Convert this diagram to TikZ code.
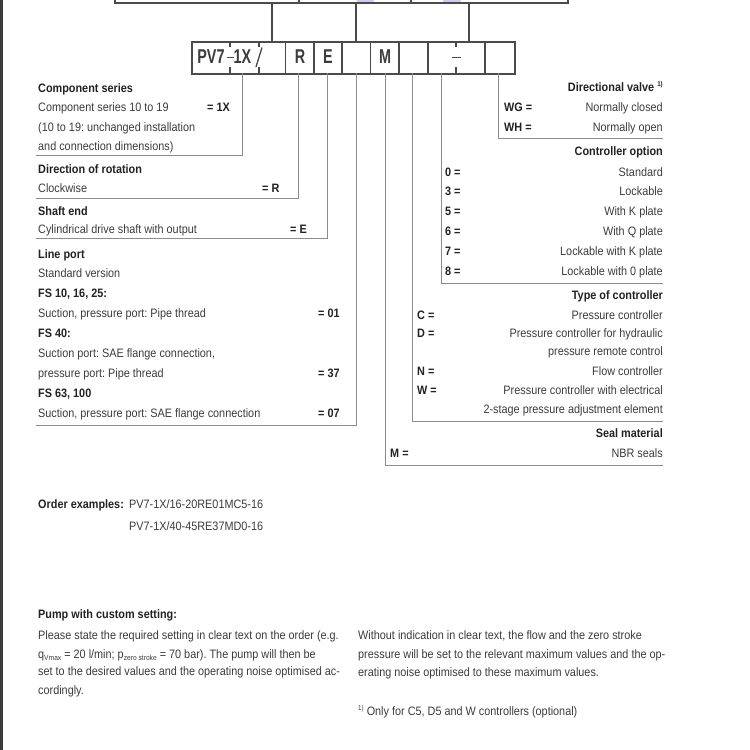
\documentclass[tikz,border=0pt]{standalone}
\usepackage{fontspec}
\setmainfont[FakeStretch=0.89]{Liberation Sans}
\newfontfamily\boxfont[FakeStretch=0.72]{Liberation Sans}
\definecolor{barc}{HTML}{3A3A3A}
\definecolor{txtc}{HTML}{3C3C3C}
\definecolor{boldc}{HTML}{222222}
\definecolor{framec}{HTML}{4A4A4A}
\definecolor{linec}{HTML}{8C8C8C}
\definecolor{hilite}{HTML}{CCCCF2}
\newcommand{\fs}{\fontsize{12.2}{14}\selectfont}
\newcommand{\supone}{\raisebox{0.65ex}{\fontsize{7}{7}\selectfont 1)}}
\newcommand{\subsc}[1]{\raisebox{-0.45ex}{\fontsize{7.5}{7.5}\selectfont #1}}
\tikzset{
  lt/.style={anchor=base west, inner sep=0pt, font=\fs, text=txtc},
  lb/.style={anchor=base west, inner sep=0pt, font=\fs\bfseries, text=boldc},
  rt/.style={anchor=base east, inner sep=0pt, font=\fs, text=txtc},
  rb/.style={anchor=base east, inner sep=0pt, font=\fs\bfseries, text=boldc},
  code/.style={anchor=base west, inner sep=0pt, font=\fs\bfseries, text=boldc},
  boxtxt/.style={anchor=center, inner sep=0pt, font=\boxfont\bfseries\fontsize{20}{20}\selectfont, text=txtc},
  frame/.style={draw=framec, line width=1.4pt},
  thin frame/.style={draw=framec, line width=1.1pt},
  leader/.style={draw=linec, line width=0.9pt},
}
\frenchspacing
\begin{document}
\frenchspacing
\begin{tikzpicture}[x=1pt,y=-1pt]
\useasboundingbox (0,0) rectangle (750,750);
\fill[white] (0,0) rectangle (750,750);
\fill[barc] (0,0) rectangle (3,750);

% --- table edge at top
\fill[hilite] (357,0) rectangle (374,4);
\fill[hilite] (443,0) rectangle (461,4);
\coordinate (tl) at (115,3);
\coordinate (tr) at (568,3);
\draw[thin frame] (115,0) -- (tl) -- (tr) -- (568,0);
\draw[thin frame] (299,0) -- (299,3);
\draw[thin frame] (411,0) -- (411,3);

% --- code box
\node[draw=framec, line width=1.5pt, minimum width=323pt, minimum height=32pt, inner sep=0pt, anchor=north west] (cb) at (191,41) {};
\foreach \x in {285.7,314,342,370.7,399,428,485}{\draw[frame] (\x,41) -- (\x,73);}
\foreach \x in {230,259,456}{\draw[frame] (\x,41) -- (\x,47); \draw[frame] (\x,67) -- (\x,73);}
\draw[frame] (226.5,57.5) -- (233.5,57.5);
\draw[frame] (451.5,57.5) -- (460.5,57.5);
\draw[draw=framec, line width=1.3pt] (262,47.5) -- (256,67);
\node[boxtxt] (pv) at (211,57) {PV7};
\node[boxtxt] (ox) at (242.5,57) {1X};
\node[boxtxt] (r) at (300,57) {R};
\node[boxtxt] (e) at (328,57) {E};
\node[boxtxt] (m) at (385,57) {M};

% connectors from table to box
\coordinate (t1) at (272,3); \coordinate (b1) at (272,41);
\coordinate (t2) at (356,3); \coordinate (b2) at (356,41);
\coordinate (t3) at (469,3); \coordinate (b3) at (469,41);
\draw[thin frame] (t1) -- (b1);
\draw[thin frame] (t2) -- (b2);
\draw[thin frame] (t3) -- (b3);

% --- left legend
\node[lb] (h1) at (38,92) {Component series};
\node[lt] (l11) at (38,111) {Component series 10 to 19};
\node[code] (c1) at (207,111) {= 1X};
\node[lt] (l12) at (38,131) {(10 to 19: unchanged installation};
\node[lt] (l13) at (38,150) {and connection dimensions)};
\node[lb] (h2) at (38,173) {Direction of rotation};
\node[lt] (l21) at (38,192) {Clockwise};
\node[code] (c2) at (262,192) {= R};
\node[lb] (h3) at (38,215) {Shaft end};
\node[lt] (l31) at (38,233) {Cylindrical drive shaft with output};
\node[code] (c3) at (290,233) {= E};
\node[lb] (h4) at (38,258) {Line port};
\node[lt] (l41) at (38,277) {Standard version};
\node[lb] (l42) at (38,297) {FS 10, 16, 25:};
\node[lt] (l43) at (38,317) {Suction, pressure port: Pipe thread};
\node[code] (c41) at (318,317) {= 01};
\node[lb] (l44) at (38,337) {FS 40:};
\node[lt] (l45) at (38,357) {Suction port: SAE flange connection,};
\node[lt] (l46) at (38,377) {pressure port: Pipe thread};
\node[code] (c42) at (318,377) {= 37};
\node[lb] (l47) at (38,397) {FS 63, 100};
\node[lt] (l48) at (38,417) {Suction, pressure port: SAE flange connection};
\node[code] (c43) at (318,417) {= 07};

% left leaders
\coordinate (a1) at (242,73); \coordinate (a1b) at (242,155); \coordinate (a1c) at (36,155);
\coordinate (a2) at (298,73); \coordinate (a2b) at (298,198); \coordinate (a2c) at (36,198);
\coordinate (a3) at (327,73); \coordinate (a3b) at (327,238); \coordinate (a3c) at (36,238);
\coordinate (a4) at (356,73); \coordinate (a4b) at (356,425); \coordinate (a4c) at (36,425);
\draw[leader] (a1) -- (a1b) -- (a1c);
\draw[leader] (a2) -- (a2b) -- (a2c);
\draw[leader] (a3) -- (a3b) -- (a3c);
\draw[leader] (a4) -- (a4b) -- (a4c);

% right leaders
\coordinate (d1) at (498,73); \coordinate (d1b) at (498,138); \coordinate (d1c) at (663,138);
\coordinate (d2) at (441,73); \coordinate (d2b) at (441,283); \coordinate (d2c) at (663,283);
\coordinate (d3) at (412,73); \coordinate (d3b) at (412,421); \coordinate (d3c) at (663,421);
\coordinate (d4) at (385,73); \coordinate (d4b) at (385,465); \coordinate (d4c) at (663,465);
\draw[leader] (d1) -- (d1b) -- (d1c);
\draw[leader] (d2) -- (d2b) -- (d2c);
\draw[leader] (d3) -- (d3b) -- (d3c);
\draw[leader] (d4) -- (d4b) -- (d4c);

% --- right legend
\node[rb] (rh1) at (663,91) {Directional valve \supone};
\node[code] (k11) at (504,111) {WG =};
\node[rt] (r11) at (663,111) {Normally closed};
\node[code] (k12) at (504,131) {WH =};
\node[rt] (r12) at (663,131) {Normally open};
\node[rb] (rh2) at (663,155) {Controller option};
\node[code] (k21) at (445,176) {0 =};
\node[rt] (r21) at (663,176) {Standard};
\node[code] (k22) at (445,195) {3 =};
\node[rt] (r22) at (663,195) {Lockable};
\node[code] (k23) at (445,215) {5 =};
\node[rt] (r23) at (663,215) {With K plate};
\node[code] (k24) at (445,235) {6 =};
\node[rt] (r24) at (663,235) {With Q plate};
\node[code] (k25) at (445,255) {7 =};
\node[rt] (r25) at (663,255) {Lockable with K plate};
\node[code] (k26) at (445,275) {8 =};
\node[rt] (r26) at (663,275) {Lockable with 0 plate};
\node[rb] (rh3) at (663,299) {Type of controller};
\node[code] (k31) at (417,319) {C =};
\node[rt] (r31) at (663,319) {Pressure controller};
\node[code] (k32) at (417,337) {D =};
\node[rt] (r32) at (663,337) {Pressure controller for hydraulic};
\node[rt] (r33) at (663,355) {pressure remote control};
\node[code] (k34) at (417,375) {N =};
\node[rt] (r34) at (663,375) {Flow controller};
\node[code] (k35) at (417,394) {W =};
\node[rt] (r35) at (663,394) {Pressure controller with electrical};
\node[rt] (r36) at (663,413) {2-stage pressure adjustment element};
\node[rb] (rh4) at (663,437) {Seal material};
\node[code] (k41) at (390,457) {M =};
\node[rt] (r41) at (663,457) {NBR seals};

% --- order examples
\node[lb] (oe) at (38,508) {Order examples:};
\node[lt] (oe1) at (129,508) {PV7-1X/16-20RE01MC5-16};
\node[lt] (oe2) at (129,530) {PV7-1X/40-45RE37MD0-16};

% --- custom setting
\node[lb] (pc) at (38,618) {Pump with custom setting:};
\node[lt] (p1) at (38,639) {Please state the required setting in clear text on the order (e.g.};
\node[lt] (p2) at (38,658) {q\subsc{Vmax} = 20 l/min; p\subsc{zero stroke} = 70 bar). The pump will then be};
\node[lt] (p3) at (38,675) {set to the desired values and the operating noise optimised ac-};
\node[lt] (p4) at (38,694) {cordingly.};
\node[lt] (q1) at (358,639) {Without indication in clear text, the flow and the zero stroke};
\node[lt] (q2) at (358,658) {pressure will be set to the relevant maximum values and the op-};
\node[lt] (q3) at (358,676) {erating noise optimised to these maximum values.};
\node[lt] (fn) at (358,715) {\supone\ Only for C5, D5 and W controllers (optional)};
\end{tikzpicture}
\end{document}
